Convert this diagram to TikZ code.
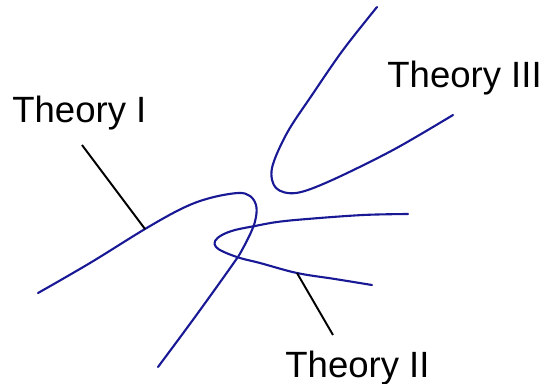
\documentclass[tikz,border=0pt]{standalone}
\usepackage{fontspec}
\setmainfont{Liberation Sans}
\definecolor{theoryblue}{RGB}{25,25,150}
\tikzset{
  curve/.style={draw=theoryblue, line width=1.2pt, line cap=round, line join=round},
  lead/.style={draw=black, line width=1.1pt},
  lbl/.style={inner sep=0pt, anchor=base west, font=\fontsize{20.8}{25}\selectfont},
}

\begin{document}
\begin{tikzpicture}[x=0.02cm, y=-0.02cm]
    \useasboundingbox (0,0) rectangle (544,383);
    % the three theories
    \draw[curve] plot[smooth, tension=0.6] coordinates {(38,293) (90,263) (145,229) (183,208)
      (210,198) (238,193) (250,196) (256,205) (256,217) (252,230) (242,250) (233,264) (195,317) (158,367)};
    \draw[curve] plot[smooth, tension=0.6] coordinates {(408,214) (363,215) (307,219) (277,222)
      (255,226) (235,230) (222,235) (215,241) (216,247) (224,252) (240,258) (260,263) (297,273)
      (335,279) (372,285)};
    \draw[curve] plot[smooth, tension=0.55] coordinates {(377,7) (343,50) (312,95) (287,133)
      (272,168) (276,188) (296,193) (330,181) (393,150) (453,115)};
    % labels
    \node[lbl] (t1) at (12,122) {Theory I};
    \node[lbl] (t2) at (285,377) {Theory II};
    \node[lbl] (t3) at (387,87) {Theory III};
    \coordinate (t1end) at (82,145);
    \coordinate (c1) at (145,229);
    \coordinate (t2end) at (333,335);
    \coordinate (c2) at (297,273);
    \draw[lead] (t1end) -- (c1);
    \draw[lead] (c2) -- (t2end);
\end{tikzpicture}
\end{document}
